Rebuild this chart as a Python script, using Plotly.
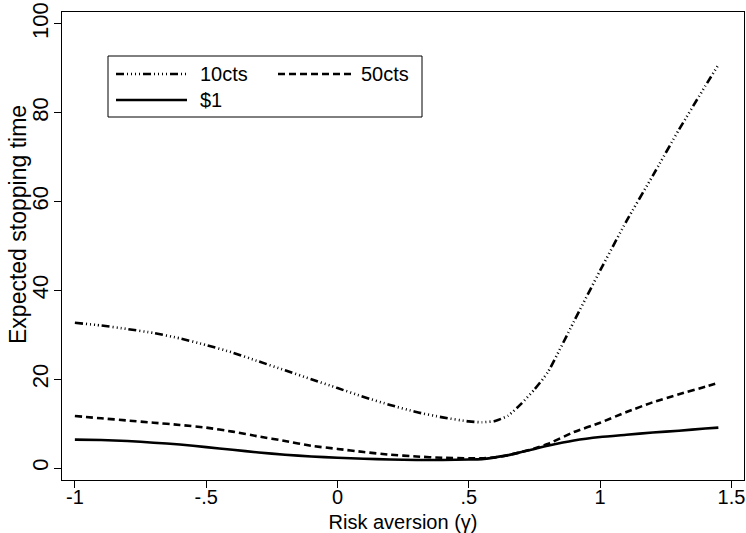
import plotly.graph_objects as go

# Risk aversion grid
gamma = [-1.0, -0.9, -0.8, -0.7, -0.6, -0.5, -0.4, -0.3, -0.2, -0.1, 0.0,
         0.1, 0.2, 0.3, 0.4, 0.5, 0.55, 0.6, 0.65, 0.7, 0.75, 0.8, 0.9,
         1.0, 1.1, 1.2, 1.3, 1.4, 1.45]

# Expected stopping time by stake size
cts10 = [32.7, 32.1, 31.3, 30.4, 29.2, 27.7, 26.0, 24.0, 22.0, 20.0, 18.0,
         16.0, 14.2, 12.6, 11.4, 10.5, 10.3, 10.6, 11.8, 14.5, 17.7, 21.5, 33.0,
         44.5, 55.6, 65.8, 76.2, 86.0, 90.8]
cts50 = [11.7, 11.2, 10.7, 10.2, 9.7, 9.1, 8.2, 7.1, 6.1, 5.0, 4.3,
         3.6, 3.0, 2.6, 2.3, 2.2, 2.2, 2.4, 2.9, 3.6, 4.4, 5.4, 8.1,
         10.2, 12.6, 14.8, 16.6, 18.3, 19.2]
usd1 = [6.4, 6.3, 6.1, 5.7, 5.3, 4.7, 4.1, 3.5, 3.0, 2.6, 2.3,
        2.1, 1.9, 1.8, 1.8, 1.9, 2.0, 2.4, 2.9, 3.6, 4.3, 5.0, 6.2,
        7.0, 7.5, 8.0, 8.4, 8.9, 9.1]

x_ticks = [-1, -0.5, 0, 0.5, 1, 1.5]
x_labels = ["-1", "-.5", "0", ".5", "1", "1.5"]
y_ticks = [0, 20, 40, 60, 80, 100]
y_labels = ["0", "20", "40", "60", "80", "100"]

series_names = ["10cts", "50cts", "$1"]

FONT = "Arial, Liberation Sans, sans-serif"
DASHDOT = "8px,3px,1px,3px,1px,3px,1px,3px,1px,3px"
DASH = "7px,4px"

W, H = 746, 533
L, R, T, B = 62, 2, 12, 53
PW, PH = W - L - R, H - T - B

styles = [
    dict(color="black", width=2.6, dash=DASHDOT),
    dict(color="black", width=2.6, dash=DASH),
    dict(color="black", width=2.6, dash="solid"),
]

fig = go.Figure()
for name, ys, st in zip(series_names, [cts10, cts50, usd1], styles):
    fig.add_trace(go.Scatter(
        x=gamma, y=ys, mode="lines", name=name,
        line=dict(color=st["color"], width=st["width"], dash=st["dash"],
                  shape="spline", smoothing=0.5),
        showlegend=False,
    ))


def px_x(p):
    return (p - L) / PW


def px_y(p):
    return (H - B - p) / PH


shapes = []
annotations = []

# legend box
shapes.append(dict(type="rect", xref="paper", yref="paper",
                   x0=px_x(108), x1=px_x(422), y0=px_y(117), y1=px_y(56),
                   line=dict(color="black", width=1), fillcolor="white",
                   layer="above"))

legend_items = [
    (series_names[0], 116, 187, 198, 74, styles[0]),
    (series_names[1], 278, 351, 359, 74, styles[1]),
    (series_names[2], 116, 187, 198, 100, styles[2]),
]
for name, sx0, sx1, tx, ty, st in legend_items:
    shapes.append(dict(type="line", xref="paper", yref="paper",
                       x0=px_x(sx0), x1=px_x(sx1), y0=px_y(ty), y1=px_y(ty),
                       line=dict(color=st["color"], width=st["width"], dash=st["dash"]),
                       layer="above"))
    annotations.append(dict(xref="paper", yref="paper", x=px_x(tx), y=px_y(ty),
                            text=name, showarrow=False, xanchor="left", yanchor="middle",
                            font=dict(family=FONT, size=20, color="black")))

# y-axis title
annotations.append(dict(xref="paper", yref="paper", x=px_x(18), y=px_y(225),
                        text="Expected stopping time", showarrow=False, textangle=-90,
                        xanchor="center", yanchor="middle",
                        font=dict(family=FONT, size=23, color="black")))

fig.update_layout(
    width=W, height=H,
    margin=dict(l=L, r=R, t=T, b=B),
    paper_bgcolor="white", plot_bgcolor="white",
    font=dict(family=FONT, size=20, color="black"),
    shapes=shapes, annotations=annotations,
    showlegend=False,
)

fig.update_xaxes(
    range=[-1.049, 1.5476],
    tickmode="array", tickvals=x_ticks, ticktext=x_labels,
    ticks="outside", ticklen=7, tickwidth=1, tickcolor="black",
    ticklabelstandoff=-8,
    showline=True, linecolor="black", linewidth=1, mirror=True,
    showgrid=False, zeroline=False,
    tickfont=dict(family=FONT, size=20, color="black"),
    title=dict(text="Risk aversion (γ)", font=dict(family=FONT, size=20, color="black"),
               standoff=9),
)
fig.update_yaxes(
    range=[-2.7, 102.7],
    tickmode="array", tickvals=y_ticks, ticktext=y_labels,
    ticks="outside", ticklen=7, tickwidth=1, tickcolor="black",
    tickangle=-90, ticklabelstandoff=-3,
    showline=True, linecolor="black", linewidth=1, mirror=True,
    showgrid=False, zeroline=False,
    tickfont=dict(family=FONT, size=22, color="black"),
)

fig.write_html("out.html")
